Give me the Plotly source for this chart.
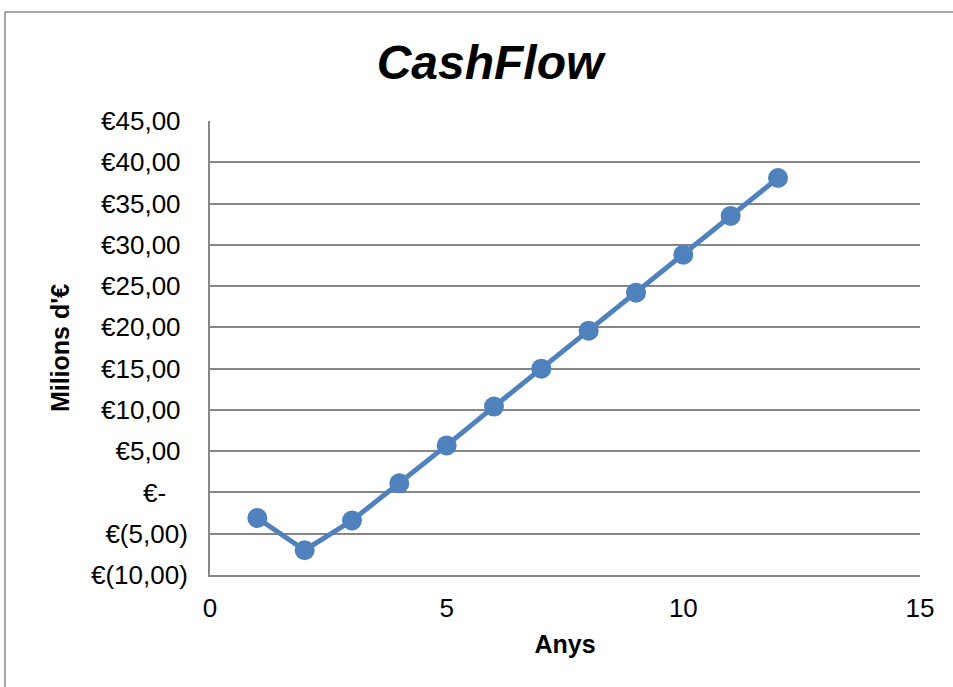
import plotly.graph_objects as go

# Annual cash flow, millions of euros
anys = [1, 2, 3, 4, 5, 6, 7, 8, 9, 10, 11, 12]
cashflow = [-3.1, -7.0, -3.4, 1.1, 5.7, 10.4, 15.0, 19.6, 24.2, 28.8, 33.5, 38.1]

# Accounting-style labels: trailing spaces keep the digits aligned past ")"
y_ticks = [-10, -5, 0, 5, 10, 15, 20, 25, 30, 35, 40, 45]
y_tick_labels = ["€(10,00)", "€(5,00)", "€-   ", "€5,00 ", "€10,00 ", "€15,00 ",
                 "€20,00 ", "€25,00 ", "€30,00 ", "€35,00 ", "€40,00 ", "€45,00 "]
x_ticks = [0, 5, 10, 15]

W, H = 953, 687
L, R, T, B = 210, 33, 121, 112
pw, ph = W - L - R, H - T - B

def px_x(p):
    return (p - L) / pw

def px_y(p):
    return (H - B - p) / ph

FONT = "Liberation Sans, Arial, sans-serif"
GRID = "#878787"
BLUE = "#4F81BD"

fig = go.Figure()
fig.add_trace(go.Scatter(
    x=anys, y=cashflow, mode="lines+markers",
    line=dict(color=BLUE, width=5),
    marker=dict(color=BLUE, size=20),
    showlegend=False,
))

fig.update_layout(
    width=W, height=H,
    margin=dict(l=L, r=R, t=T, b=B),
    paper_bgcolor="white", plot_bgcolor="white",
    font=dict(family=FONT, size=26, color="black"),
    title=dict(text="<b><i>CashFlow</i></b>", x=490 / W, xanchor="center",
               y=1 - 62 / H, yanchor="middle",
               font=dict(family=FONT, size=48, color="black")),
    xaxis=dict(range=[0, 15], tickvals=x_ticks, showgrid=False, zeroline=False,
               showline=True, linecolor=GRID, linewidth=2, ticks="",
               tickfont=dict(size=26), ticklabelstandoff=9,
               title=dict(text="<b>Anys</b>", font=dict(size=25), standoff=13)),
    yaxis=dict(range=[-10, 45], tickvals=y_ticks, ticktext=y_tick_labels,
               showgrid=True, gridcolor=GRID, gridwidth=2, zeroline=False,
               showline=True, linecolor=GRID, linewidth=2, ticks="",
               tickfont=dict(size=26), ticklabelstandoff=15,
               title=dict(text="<b>Milions d'€</b>", font=dict(size=25), standoff=14)),
    shapes=[dict(type="rect", xref="paper", yref="paper",
                 x0=px_x(5), x1=px_x(W + 40), y0=px_y(H + 40), y1=px_y(12),
                 line=dict(color="#8c8c8c", width=1.5), layer="below")],
)

fig.write_html("out.html")
